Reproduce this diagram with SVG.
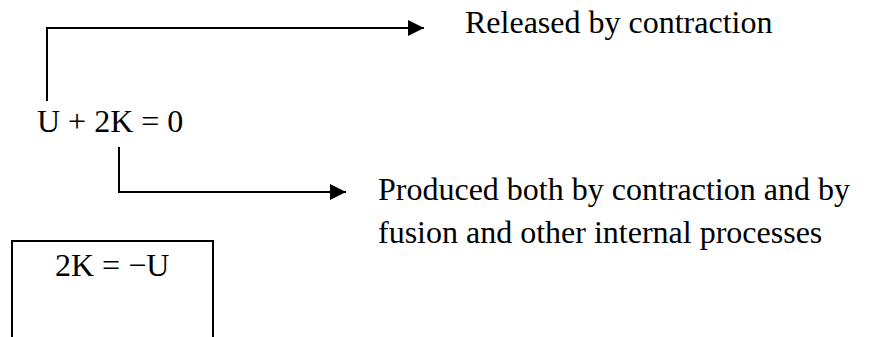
<svg xmlns="http://www.w3.org/2000/svg" width="879" height="337" viewBox="0 0 879 337">
<defs>
<marker id="arr" markerWidth="8" markerHeight="8" refX="8" refY="4" orient="auto" markerUnits="strokeWidth">
<path d="M0,0 L8,4 L0,8 Z" fill="#000"/>
</marker>
<style>
.t{font-family:"Liberation Serif","Times New Roman",serif;font-size:32px;fill:#000}
.c{fill:none;stroke:#000;stroke-width:2}
</style>
</defs>
<rect width="879" height="337" fill="#fff"/>
<g id="connectors">
<path class="c" d="M47,101 V28 H424" marker-end="url(#arr)"/>
<path class="c" d="M119,147 V192 H346" marker-end="url(#arr)"/>
</g>
<g id="eq">
<text class="t" x="37" y="132">U + 2K = 0</text>
</g>
<g id="released">
<text class="t" x="465" y="33">Released by contraction</text>
</g>
<g id="produced">
<text class="t" x="378" y="200">Produced both by contraction and by</text>
<text class="t" x="378" y="243">fusion and other internal processes</text>
</g>
<g id="box">
<path class="c" d="M12,340 V241 H213 V340"/>
<text class="t" x="55" y="276">2K = −U</text>
</g>
</svg>
